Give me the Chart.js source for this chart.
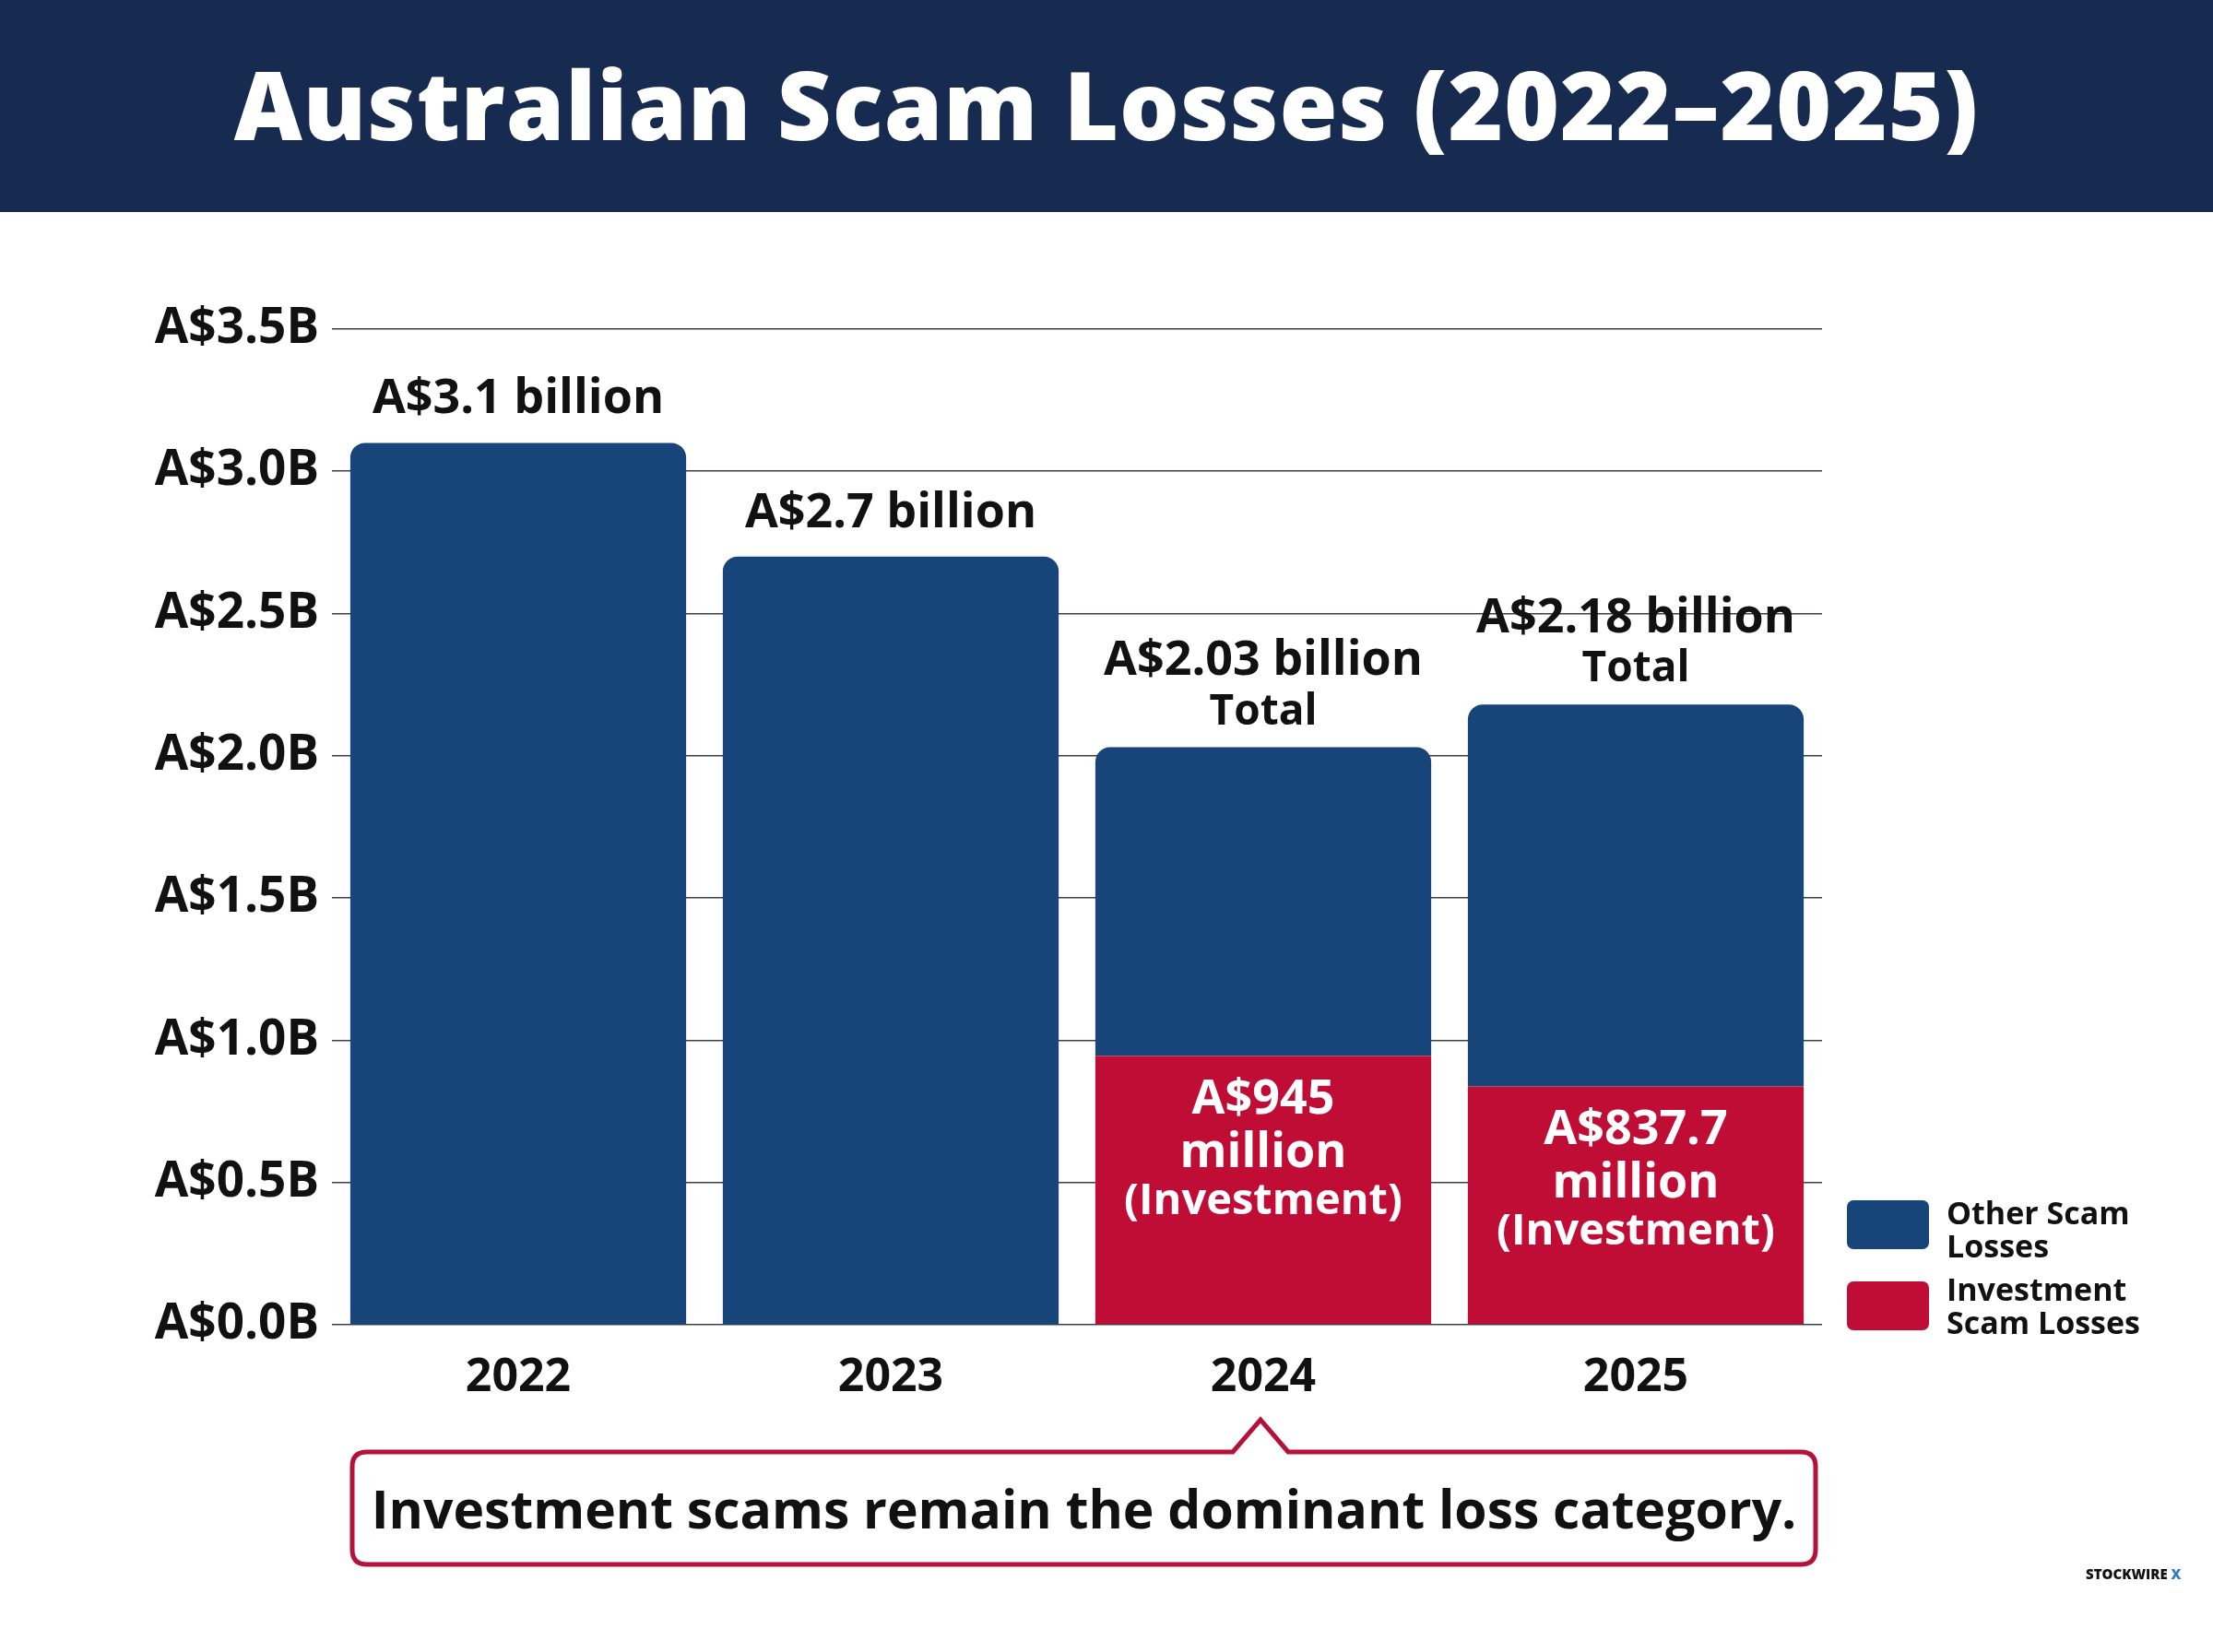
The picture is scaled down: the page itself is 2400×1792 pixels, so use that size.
<!DOCTYPE html>
<html>
<head>
<meta charset="utf-8">
<script src="https://cdn.jsdelivr.net/npm/chart.js@4/dist/chart.umd.min.js"></script>
<style>
  html, body { margin: 0; padding: 0; background: #fff; }
  body { width: 2400px; height: 1792px; position: relative; overflow: hidden; font-family: "Open Sans", sans-serif; }
  #header { position: absolute; left: 0; top: 0; width: 2400px; height: 230px; background: #172a4f;
    color: #fff; font-weight: 800; font-size: 102px; text-align: center; line-height: 226px; letter-spacing: 1px; }
  #chartWrap { position: absolute; left: 0; top: 0; width: 2400px; height: 1792px; }
  .legend { position: absolute; left: 2003px; font-weight: 700; font-size: 34px; line-height: 36px; color: #111; }
  .legend .sw { position: absolute; left: 0; width: 89px; height: 53px; border-radius: 7px; }
  .legend .tx { position: absolute; left: 108px; white-space: nowrap; }
  #callout { position: absolute; left: 0; top: 0; }
  #calloutText { position: absolute; left: 380px; width: 1591px; top: 1573px; height: 126px; line-height: 126px;
    text-align: center; font-weight: 700; font-size: 57px; color: #111; }
  #mark { position: absolute; left: 2262px; top: 1697px; font-weight: 800; font-size: 15px; color: #111; }
</style>
</head>
<body>
<div id="chartWrap"><canvas id="scamChart" width="2400" height="1792"></canvas></div>
<div id="header">Australian Scam Losses (2022–2025)</div>

<div class="legend" style="top:1302px;"><div class="sw" style="background:#174479;"></div><div class="tx" style="top:-5px;">Other Scam<br>Losses</div></div>
<div class="legend" style="top:1390px;"><div class="sw" style="background:#c00d35;"></div><div class="tx" style="top:-10px;">Investment<br>Scam Losses</div></div>

<svg id="callout" width="2400" height="1792">
  <path d="M398 1575 H1337 L1367 1540 L1397 1575 H1953 Q1969 1575 1969 1591 V1681 Q1969 1697 1953 1697 H398 Q382 1697 382 1681 V1591 Q382 1575 398 1575 Z"
        fill="#fff" stroke="#b3123b" stroke-width="5"/>
</svg>
<div id="calloutText">Investment scams remain the dominant loss category.</div>
<div id="mark">STOCKWIRE <span style="color:#3a78c4;">X</span></div>

<script>
// Data (A$ billions)
const years = ['2022', '2023', '2024', '2025'];
const investmentLosses = [0, 0, 0.945, 0.8377];
const totalLosses = [3.1, 2.7, 2.03, 2.18];
const otherLosses = [3.1, 2.7, 1.085, 1.3423];
const totalLabels = [['A$3.1 billion'], ['A$2.7 billion'], ['A$2.03 billion', 'Total'], ['A$2.18 billion', 'Total']];
const investmentLabels = [null, null, ['A$945', 'million', '(Investment)'], ['A$837.7', 'million', '(Investment)']];
const yTicks = [0, 0.5, 1, 1.5, 2, 2.5, 3, 3.5];

const FONT = '"Open Sans", sans-serif';

// Text labels above and inside the bars
const barLabels = {
    id: 'barLabels',
    afterDatasetsDraw(chart) {
        const ctx = chart.ctx;
        const otherMeta = chart.getDatasetMeta(1);
        const invMeta = chart.getDatasetMeta(0);
        ctx.save();
        ctx.textAlign = 'center';
        ctx.textBaseline = 'middle';
        ctx.fillStyle = '#111';
        otherMeta.data.forEach(function(bar, i) {
            const lines = totalLabels[i];
            const top = bar.y;
            if (lines.length === 1) {
                ctx.font = '700 52px ' + FONT;
                ctx.fillText(lines[0], bar.x, top - 47);
            } else {
                ctx.font = '700 52px ' + FONT;
                ctx.fillText(lines[0], bar.x, top - 93);
                ctx.font = '700 46px ' + FONT;
                ctx.fillText(lines[1], bar.x, top - 38);
            }
        });
        ctx.fillStyle = '#fff';
        invMeta.data.forEach(function(bar, i) {
            const lines = investmentLabels[i];
            if (!lines) return;
            const top = bar.y;
            ctx.font = '700 52px ' + FONT;
            ctx.fillText(lines[0], bar.x, top + 48);
            ctx.fillText(lines[1], bar.x, top + 106);
            ctx.font = '700 47px ' + FONT;
            ctx.fillText(lines[2], bar.x, top + 158);
        });
        ctx.restore();
    }
};

new Chart(document.getElementById('scamChart'), {
    type: 'bar',
    data: {
        labels: years,
        datasets: [{
            label: 'Investment Scam Losses',
            data: investmentLosses,
            backgroundColor: '#c00d35',
            borderWidth: 0
        }, {
            label: 'Other Scam Losses',
            data: otherLosses,
            backgroundColor: '#174479',
            borderWidth: 0,
            borderRadius: { topLeft: 16, topRight: 16, bottomLeft: 0, bottomRight: 0 },
            borderSkipped: false
        }]
    },
    options: {
        responsive: false,
        animation: false,
        devicePixelRatio: 1,
        layout: { padding: { top: 357, right: 424, left: 0, bottom: 0 } },
        plugins: { legend: { display: false }, tooltip: { enabled: false } },
        datasets: { bar: { barPercentage: 0.9015, categoryPercentage: 1 } },
        scales: {
            x: {
                stacked: true,
                grid: { display: false },
                border: { display: false },
                ticks: { color: '#111', font: { family: FONT, size: 50, weight: '700' }, padding: 20 },
                afterFit: function(scale) { scale.height = 355; }
            },
            y: {
                stacked: true,
                min: 0,
                max: 3.5,
                afterBuildTicks: function(scale) { scale.ticks = yTicks.map(function(v) { return { value: v }; }); },
                grid: { color: '#3a3f4a', lineWidth: 1.6, drawTicks: false },
                border: { display: false },
                ticks: {
                    color: '#111',
                    font: { family: FONT, size: 53, weight: '700' },
                    padding: 14,
                    callback: function(v) { return 'A$' + Number(v).toFixed(1) + 'B'; }
                },
                afterFit: function(scale) { scale.width = 360; }
            }
        }
    },
    plugins: [barLabels]
});
</script>
</body>
</html>
